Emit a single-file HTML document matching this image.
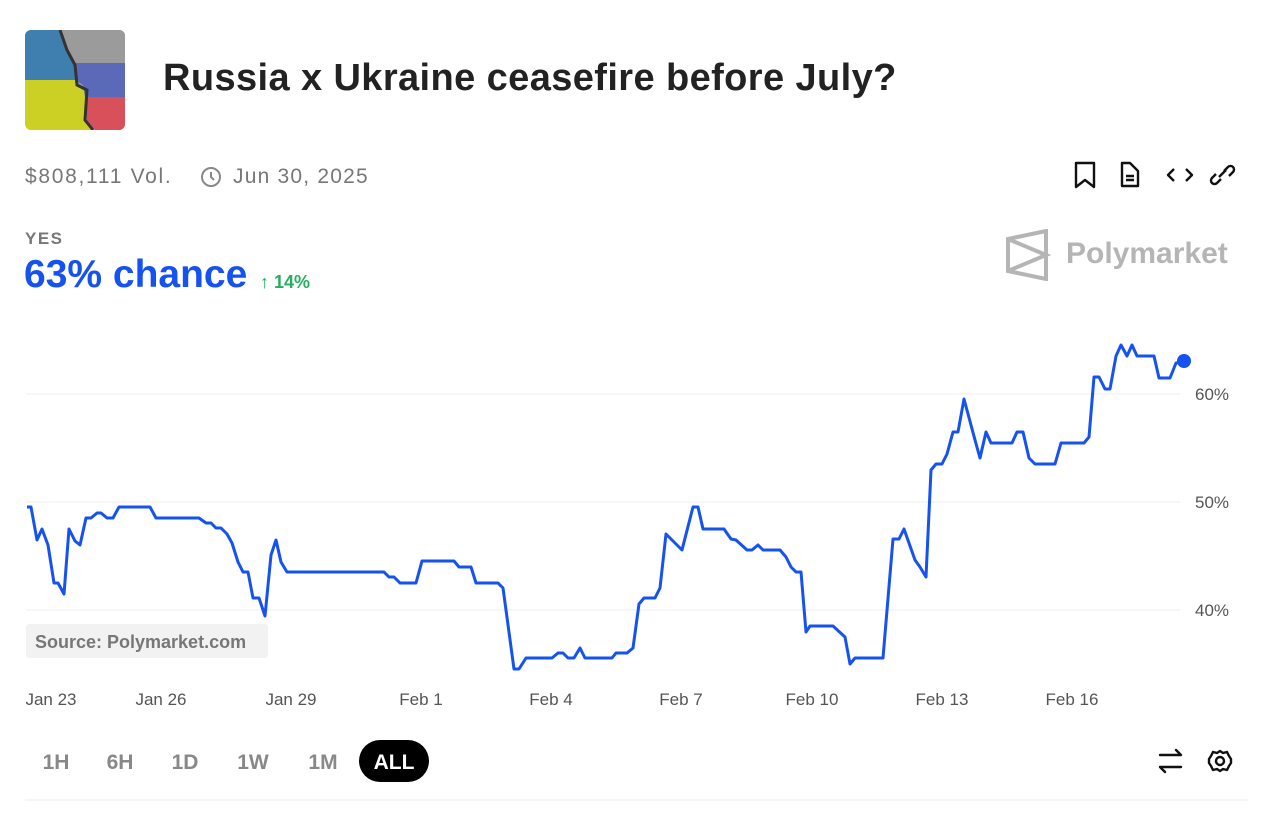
<!DOCTYPE html>
<html><head><meta charset="utf-8"><style>
body{margin:0;width:1280px;height:816px;background:#fff;font-family:"Liberation Sans",sans-serif;position:relative;overflow:hidden}
.a{position:absolute;white-space:nowrap}
</style></head><body>
<svg class="a" style="left:25px;top:30px" width="100" height="100" viewBox="0 0 100 100">
<defs><clipPath id="c"><rect width="100" height="100" rx="6"/></clipPath></defs>
<g clip-path="url(#c)">
<rect width="100" height="100" fill="#ccd024"/>
<rect width="100" height="50" fill="#3f7fb0"/>
<path d="M35 0H100V100H70L60 90L62 60L52 55L50 35L42 20Z" fill="#9b9b9b"/>
<path d="M48 33L100 33V67H60L58 55L50 50Z" fill="#5a6ab8"/>
<path d="M60 67H100V100H70L62 90Z" fill="#d8505a"/>
<path d="M35 0L42 20L50 35L52 55L62 60L60 90L68 100" stroke="#333" stroke-width="3" fill="none"/>
</g></svg>
<div class="a" style="left:163px;top:57px;font-size:38px;font-weight:bold;color:#222;letter-spacing:0.4px">Russia x Ukraine ceasefire before July?</div>
<div class="a" style="left:25px;top:165px;font-size:21px;color:#777;letter-spacing:1.7px">$808,111 Vol.</div>
<svg class="a" style="left:200px;top:166px" width="22" height="22"><circle cx="11" cy="11" r="9" fill="none" stroke="#888" stroke-width="2"/><path d="M11 6V11L14 14" stroke="#888" stroke-width="2" fill="none"/></svg>
<div class="a" style="left:233px;top:165px;font-size:21px;color:#777;letter-spacing:1.2px">Jun 30, 2025</div>
<svg class="a" style="left:1070px;top:160px" width="180" height="32" fill="none" stroke="#111" stroke-width="2.4" stroke-linejoin="round">
<path d="M6 3H24V27L15 20L6 27Z"/>
<path d="M52 3H60L68 11V26H52Z M56 16H64 M56 20H64"/>
<path d="M104 9L98 15L104 21 M116 9L122 15L116 21"/>
<path d="M151 19L147 23A3.5 3.5 0 0 1 142 18L146 14 M154 11L158 7A3.5 3.5 0 0 1 163 12L159 16 M149 17L156 10"/>
</svg>
<div class="a" style="left:25px;top:229px;font-size:17px;color:#777;font-weight:bold;letter-spacing:1.5px">YES</div>
<div class="a" style="left:24px;top:253px;font-size:39px;font-weight:bold;color:#1652f0">63% chance</div>
<div class="a" style="left:260px;top:272px;font-size:18px;font-weight:bold;color:#27ae60">↑ 14%</div>
<svg class="a" style="left:1005px;top:229px" width="46" height="52" fill="none" stroke="#b5b5b5" stroke-width="4"><path d="M3 10L41 2V50L3 42Z M3 10L41 26L3 42"/></svg>
<div class="a" style="left:1066px;top:237px;font-size:30px;font-weight:bold;color:#b5b5b5">Polymarket</div>
<svg class="a" style="left:0;top:0" width="1280" height="816">
<g stroke="#eee" stroke-width="1"><line x1="26" y1="394" x2="1180" y2="394"/><line x1="26" y1="502" x2="1180" y2="502"/><line x1="26" y1="610" x2="1180" y2="610"/><line x1="25" y1="800" x2="1248" y2="800"/></g>
<g font-size="17" fill="#555" font-family="Liberation Sans"><text x="1195" y="400">60%</text><text x="1195" y="508">50%</text><text x="1195" y="616">40%</text></g>
<rect x="26" y="624" width="242" height="34" rx="3" fill="#f2f2f2"/>
<text x="35" y="648" font-size="18" font-weight="bold" fill="#777" font-family="Liberation Sans">Source: Polymarket.com</text>
<polyline fill="none" stroke="#1652f0" stroke-width="3" stroke-linejoin="round" points="27,507 31,507 37,540 42,529 48,545 54,583 58,583 64,594 69,529 75,541 80,545 86,518 91,518 97,513 101,513 107,518 113,518 119,507 150,507 156,518 199,518 206,523 211,523 216,528 221,528 227,534 232,543 238,562 243,572 248,572 253,598 259,598 265,616 271,555 276,540 281,562 287,572 384,572 389,577 394,577 400,583 416,583 422,561 454,561 459,567 471,567 476,583 498,583 503,588 514,669 519,669 526,658 552,658 558,653 563,653 568,658 574,658 580,648 585,658 612,658 616,653 627,653 633,648 639,604 644,598 655,598 660,588 666,534 682,550 693,507 698,507 703,529 724,529 731,539 736,540 747,550 752,550 758,545 763,550 780,550 786,557 791,567 796,572 801,572 806,632 810,626 833,626 845,637 850,664 855,658 883,658 893,539 899,539 904,529 915,560 920,567 926,577 931,470 936,464 942,464 947,454 953,432 958,432 964,399 975,440 980,458 986,432 991,443 1012,443 1017,432 1023,432 1029,458 1035,464 1055,464 1061,443 1084,443 1089,437 1094,377 1099,377 1105,389 1110,389 1116,356 1121,345 1127,356 1132,345 1137,356 1154,356 1159,378 1170,378 1176,363 1184,362"/>
<circle cx="1184" cy="361" r="7" fill="#1652f0"/>
<g font-size="17" fill="#555" font-family="Liberation Sans" text-anchor="middle"><text x="51" y="705">Jan 23</text><text x="161" y="705">Jan 26</text><text x="291" y="705">Jan 29</text><text x="421" y="705">Feb 1</text><text x="551" y="705">Feb 4</text><text x="681" y="705">Feb 7</text><text x="812" y="705">Feb 10</text><text x="942" y="705">Feb 13</text><text x="1072" y="705">Feb 16</text></g>
<rect x="359" y="740" width="70" height="42" rx="21" fill="#000"/>
<g font-size="21" font-weight="bold" fill="#888" font-family="Liberation Sans" text-anchor="middle"><text x="56" y="769">1H</text><text x="120" y="769">6H</text><text x="185" y="769">1D</text><text x="253" y="769">1W</text><text x="323" y="769">1M</text><text x="394" y="769" fill="#fff">ALL</text></g>
<g fill="none" stroke="#111" stroke-width="2.4" stroke-linecap="round" stroke-linejoin="round"><path d="M1160 755H1181L1176 750 M1181 767H1160L1165 772"/>
<circle cx="1220" cy="761" r="4"/><path d="M1220 751L1223 753L1227 752L1229 756L1231 759L1231 763L1229 766L1227 770L1223 769L1220 771L1217 769L1213 770L1211 766L1209 763L1209 759L1211 756L1213 752L1217 753Z"/></g>
</svg>
</body></html>
